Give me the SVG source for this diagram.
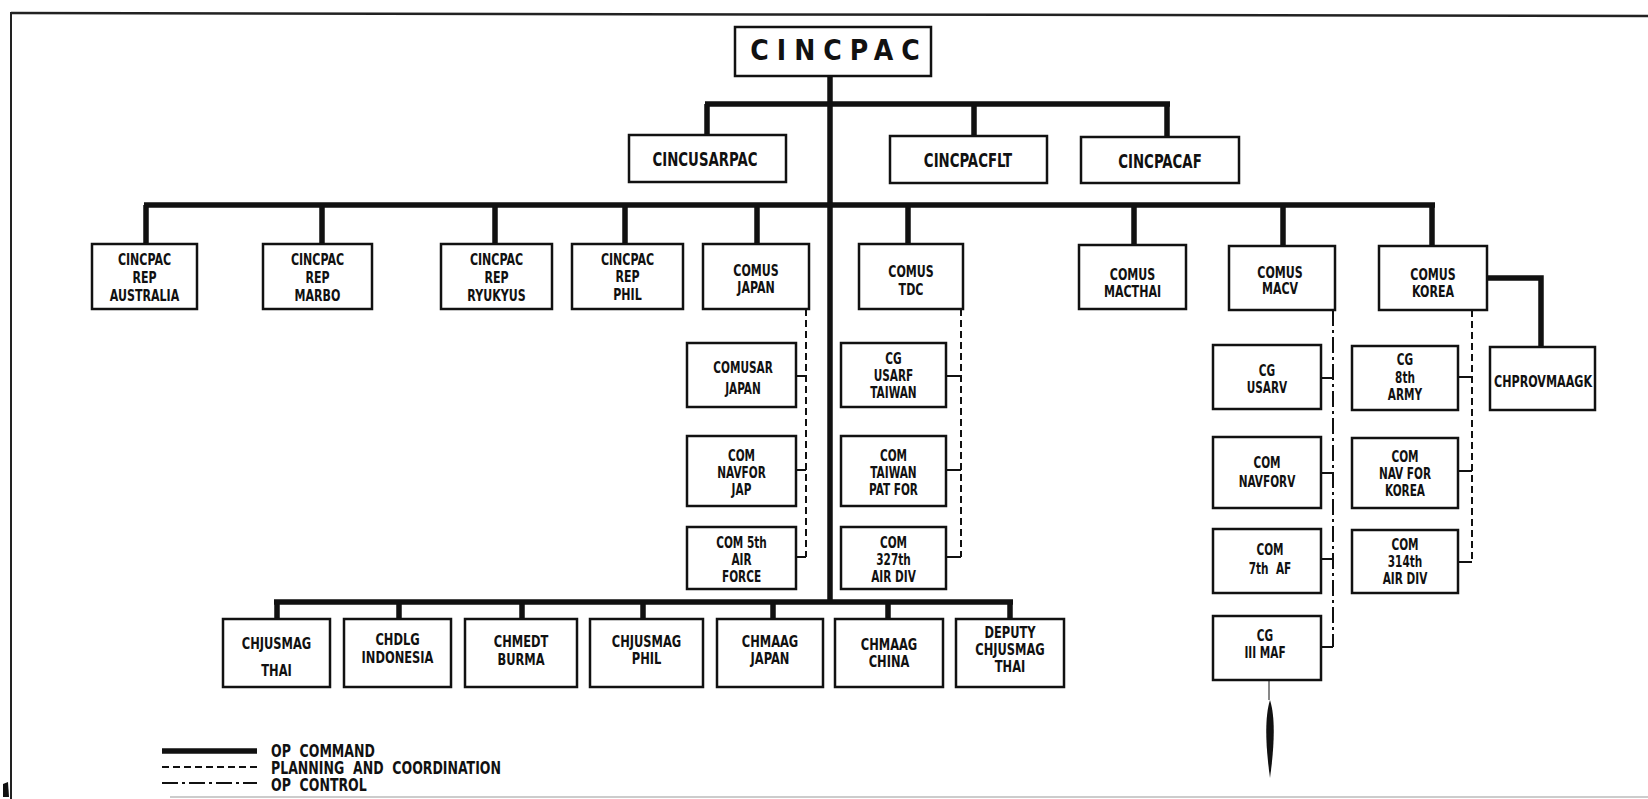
<svg xmlns="http://www.w3.org/2000/svg" width="1648" height="799" viewBox="0 0 1648 799">
<style>
.box{fill:#fff;stroke:#111;stroke-width:2.5}
.t{font-family:"Liberation Sans Narrow","Arial Narrow","DejaVu Sans Condensed","Liberation Sans",sans-serif;font-weight:bold;fill:#111;text-anchor:middle}
.s1{font-size:20px}
.s2{font-size:15px}
.s3{font-size:15px}
.cmd{stroke:#111;stroke-width:5.5;fill:none}
.plan{stroke:#111;stroke-width:2;stroke-dasharray:7 4;fill:none}
.ctl{stroke:#111;stroke-width:2;stroke-dasharray:16 4 3 4;fill:none}
.thin{stroke:#111;stroke-width:2;fill:none}
.lg{font-family:"Liberation Sans Narrow","Arial Narrow","DejaVu Sans Condensed","Liberation Sans",sans-serif;font-weight:bold;fill:#111;font-size:17px}
</style>
<rect width="1648" height="799" fill="#fff"/>
<g id="frame">
<path d="M11,13 L1648,16" stroke="#222" stroke-width="2.5" fill="none"/>
<path d="M11,12 L11,799" stroke="#222" stroke-width="2" fill="none"/>
<path d="M170,797 L1648,797" stroke="#bbb" stroke-width="1.5" fill="none"/>
<path d="M3,784 L8,782 L9,797 L3,797 Z" fill="#111"/>
</g>
<g id="connectors">
<path class="cmd" d="M830,76 V602"/>
<path class="cmd" d="M705,104 H1170 M707,104 V135 M974,104 V136 M1167,104 V137"/>
<path class="cmd" d="M144,205 H1435 M146,205 V244 M322,205 V244 M495,205 V244 M625,205 V244 M757,205 V244 M908,205 V244 M1134,205 V245 M1283,205 V246 M1432,205 V246"/>
<path class="cmd" d="M1487,278 H1541 V347"/>
<path class="cmd" d="M274,602 H1013 M277,602 V619 M399,602 V619 M522,602 V619 M643,602 V619 M773,602 V619 M888,602 V619 M1010,602 V619"/>
<path class="plan" d="M806,309 V557"/>
<path class="thin" d="M796,376 H806 M796,470 H806 M796,557 H806"/>
<path class="plan" d="M961,309 V557"/>
<path class="thin" d="M946,376 H961 M946,470 H961 M946,557 H961"/>
<path class="ctl" d="M1333,310 V647"/>
<path class="thin" d="M1321,378 H1333 M1321,473 H1333 M1321,559 H1333 M1321,647 H1333"/>
<path class="plan" d="M1472,310 V562"/>
<path class="thin" d="M1458,377 H1472 M1458,471 H1472 M1458,562 H1472"/>
<path d="M1269,681 V700" stroke="#111" stroke-width="1" fill="none"/>
<path d="M1270,700 C1275,716 1275,742 1270,778 C1265,742 1265,716 1270,700 Z" fill="#111"/>
</g>
<g id="n-cincpac"><rect class="box" x="735" y="27" width="196" height="49"/><text class="t" x="839" y="60" font-size="28" letter-spacing="8">CINCPAC</text></g>
<g id="n-cincusarpac"><rect class="box" x="629" y="135" width="157" height="47"/><g transform="translate(705,0) scale(0.74,1)"><text class="t s1" y="166">CINCUSARPAC</text></g></g>
<g id="n-cincpacflt"><rect class="box" x="890" y="136" width="157" height="47"/><g transform="translate(968,0) scale(0.74,1)"><text class="t s1" y="167">CINCPACFLT</text></g></g>
<g id="n-cincpacaf"><rect class="box" x="1081" y="137" width="158" height="46"/><g transform="translate(1160,0) scale(0.74,1)"><text class="t s1" y="168">CINCPACAF</text></g></g>

<g id="n-rep-australia"><rect class="box" x="92" y="244" width="105" height="65"/><g transform="translate(144.5,0) scale(0.82,1)"><text class="t s2" y="265">CINCPAC</text><text class="t s2" y="283">REP</text><text class="t s2" y="301">AUSTRALIA</text></g></g>
<g id="n-rep-marbo"><rect class="box" x="263" y="244" width="109" height="65"/><g transform="translate(317.5,0) scale(0.82,1)"><text class="t s2" y="265">CINCPAC</text><text class="t s2" y="283">REP</text><text class="t s2" y="301">MARBO</text></g></g>
<g id="n-rep-ryukyus"><rect class="box" x="441" y="244" width="111" height="65"/><g transform="translate(496.5,0) scale(0.82,1)"><text class="t s2" y="265">CINCPAC</text><text class="t s2" y="283">REP</text><text class="t s2" y="301">RYUKYUS</text></g></g>
<g id="n-rep-phil"><rect class="box" x="572" y="244" width="111" height="65"/><g transform="translate(627.5,0) scale(0.82,1)"><text class="t s2" y="265">CINCPAC</text><text class="t s2" y="282">REP</text><text class="t s2" y="300">PHIL</text></g></g>
<g id="n-comus-japan"><rect class="box" x="703" y="244" width="106" height="65"/><g transform="translate(756,0) scale(0.82,1)"><text class="t s2" y="276">COMUS</text><text class="t s2" y="293">JAPAN</text></g></g>
<g id="n-comus-tdc"><rect class="box" x="859" y="244" width="104" height="65"/><g transform="translate(911,0) scale(0.82,1)"><text class="t s2" y="277">COMUS</text><text class="t s2" y="295">TDC</text></g></g>
<g id="n-comus-macthai"><rect class="box" x="1079" y="245" width="107" height="64"/><g transform="translate(1132.5,0) scale(0.82,1)"><text class="t s2" y="280">COMUS</text><text class="t s2" y="297">MACTHAI</text></g></g>
<g id="n-comus-macv"><rect class="box" x="1229" y="246" width="106" height="64"/><g transform="translate(1280,0) scale(0.82,1)"><text class="t s2" y="278">COMUS</text><text class="t s2" y="294">MACV</text></g></g>
<g id="n-comus-korea"><rect class="box" x="1379" y="246" width="108" height="64"/><g transform="translate(1433,0) scale(0.82,1)"><text class="t s2" y="280">COMUS</text><text class="t s2" y="297">KOREA</text></g></g>

<g id="n-comusar-japan"><rect class="box" x="687" y="343" width="109" height="64"/><g transform="translate(743,0) scale(0.78,1)"><text class="t s3" y="373">COMUSAR</text><text class="t s3" y="394">JAPAN</text></g></g>
<g id="n-com-navfor-jap"><rect class="box" x="687" y="436" width="109" height="70"/><g transform="translate(741.5,0) scale(0.78,1)"><text class="t s3" y="461">COM</text><text class="t s3" y="478">NAVFOR</text><text class="t s3" y="495">JAP</text></g></g>
<g id="n-com-5th-af"><rect class="box" x="687" y="527" width="109" height="62"/><g transform="translate(741.5,0) scale(0.78,1)"><text class="t s3" y="548">COM 5th</text><text class="t s3" y="565">AIR</text><text class="t s3" y="582">FORCE</text></g></g>
<g id="n-cg-usarf-taiwan"><rect class="box" x="841" y="343" width="105" height="64"/><g transform="translate(893.5,0) scale(0.78,1)"><text class="t s3" y="364">CG</text><text class="t s3" y="381">USARF</text><text class="t s3" y="398">TAIWAN</text></g></g>
<g id="n-com-taiwan-pat-for"><rect class="box" x="841" y="436" width="105" height="70"/><g transform="translate(893.5,0) scale(0.78,1)"><text class="t s3" y="461">COM</text><text class="t s3" y="478">TAIWAN</text><text class="t s3" y="495">PAT FOR</text></g></g>
<g id="n-com-327th"><rect class="box" x="841" y="527" width="105" height="62"/><g transform="translate(893.5,0) scale(0.78,1)"><text class="t s3" y="548">COM</text><text class="t s3" y="565">327th</text><text class="t s3" y="582">AIR DIV</text></g></g>

<g id="n-cg-usarv"><rect class="box" x="1213" y="345" width="108" height="64"/><g transform="translate(1267,0) scale(0.78,1)"><text class="t s3" y="376">CG</text><text class="t s3" y="393">USARV</text></g></g>
<g id="n-com-navforv"><rect class="box" x="1213" y="437" width="108" height="71"/><g transform="translate(1267,0) scale(0.78,1)"><text class="t s3" y="468">COM</text><text class="t s3" y="487">NAVFORV</text></g></g>
<g id="n-com-7th-af"><rect class="box" x="1213" y="529" width="108" height="64"/><g transform="translate(1270,0) scale(0.78,1)"><text class="t s3" y="555">COM</text><text class="t s3" y="574" xml:space="preserve">7th  AF</text></g></g>
<g id="n-cg-iii-maf"><rect class="box" x="1213" y="616" width="108" height="64"/><g transform="translate(1265,0) scale(0.78,1)"><text class="t s3" y="641">CG</text><text class="t s3" y="658">III MAF</text></g></g>

<g id="n-cg-8th-army"><rect class="box" x="1352" y="346" width="106" height="64"/><g transform="translate(1405,0) scale(0.78,1)"><text class="t s3" y="365">CG</text><text class="t s3" y="383">8th</text><text class="t s3" y="400">ARMY</text></g></g>
<g id="n-com-nav-for-korea"><rect class="box" x="1352" y="438" width="106" height="70"/><g transform="translate(1405,0) scale(0.78,1)"><text class="t s3" y="462">COM</text><text class="t s3" y="479">NAV FOR</text><text class="t s3" y="496">KOREA</text></g></g>
<g id="n-com-314th"><rect class="box" x="1352" y="530" width="106" height="63"/><g transform="translate(1405,0) scale(0.78,1)"><text class="t s3" y="550">COM</text><text class="t s3" y="567">314th</text><text class="t s3" y="584">AIR DIV</text></g></g>
<g id="n-chprovmaagk"><rect class="box" x="1490" y="347" width="105" height="63"/><text class="t" font-size="16" x="1543" y="387" textLength="98" lengthAdjust="spacingAndGlyphs">CHPROVMAAGK</text></g>

<g id="n-chjusmag-thai"><rect class="box" x="223" y="619" width="107" height="68"/><g transform="translate(276.5,0) scale(0.85,1)"><text class="t s2" y="649">CHJUSMAG</text><text class="t s2" y="676">THAI</text></g></g>
<g id="n-chdlg-indonesia"><rect class="box" x="344" y="619" width="107" height="68"/><g transform="translate(397.5,0) scale(0.85,1)"><text class="t s2" y="645">CHDLG</text><text class="t s2" y="663">INDONESIA</text></g></g>
<g id="n-chmedt-burma"><rect class="box" x="465" y="619" width="112" height="68"/><g transform="translate(521,0) scale(0.85,1)"><text class="t s2" y="647">CHMEDT</text><text class="t s2" y="665">BURMA</text></g></g>
<g id="n-chjusmag-phil"><rect class="box" x="590" y="619" width="113" height="68"/><g transform="translate(646.5,0) scale(0.85,1)"><text class="t s2" y="647">CHJUSMAG</text><text class="t s2" y="664">PHIL</text></g></g>
<g id="n-chmaag-japan"><rect class="box" x="717" y="619" width="106" height="68"/><g transform="translate(770,0) scale(0.85,1)"><text class="t s2" y="647">CHMAAG</text><text class="t s2" y="664">JAPAN</text></g></g>
<g id="n-chmaag-china"><rect class="box" x="835" y="619" width="108" height="68"/><g transform="translate(889,0) scale(0.85,1)"><text class="t s2" y="650">CHMAAG</text><text class="t s2" y="667">CHINA</text></g></g>
<g id="n-deputy-chjusmag-thai"><rect class="box" x="956" y="619" width="108" height="68"/><g transform="translate(1010,0) scale(0.85,1)"><text class="t s2" y="638">DEPUTY</text><text class="t s2" y="655">CHJUSMAG</text><text class="t s2" y="672">THAI</text></g></g>

<g id="legend">
<path class="cmd" d="M162,751 H257"/>
<path class="plan" d="M162,767 H257"/>
<path class="ctl" d="M162,783 H257"/>
<g transform="translate(271,0) scale(0.82,1)">
<text class="lg" y="757" xml:space="preserve">OP  COMMAND</text>
<text class="lg" y="774" xml:space="preserve">PLANNING  AND  COORDINATION</text>
<text class="lg" y="791" xml:space="preserve">OP  CONTROL</text>
</g>
</g>
</svg>
